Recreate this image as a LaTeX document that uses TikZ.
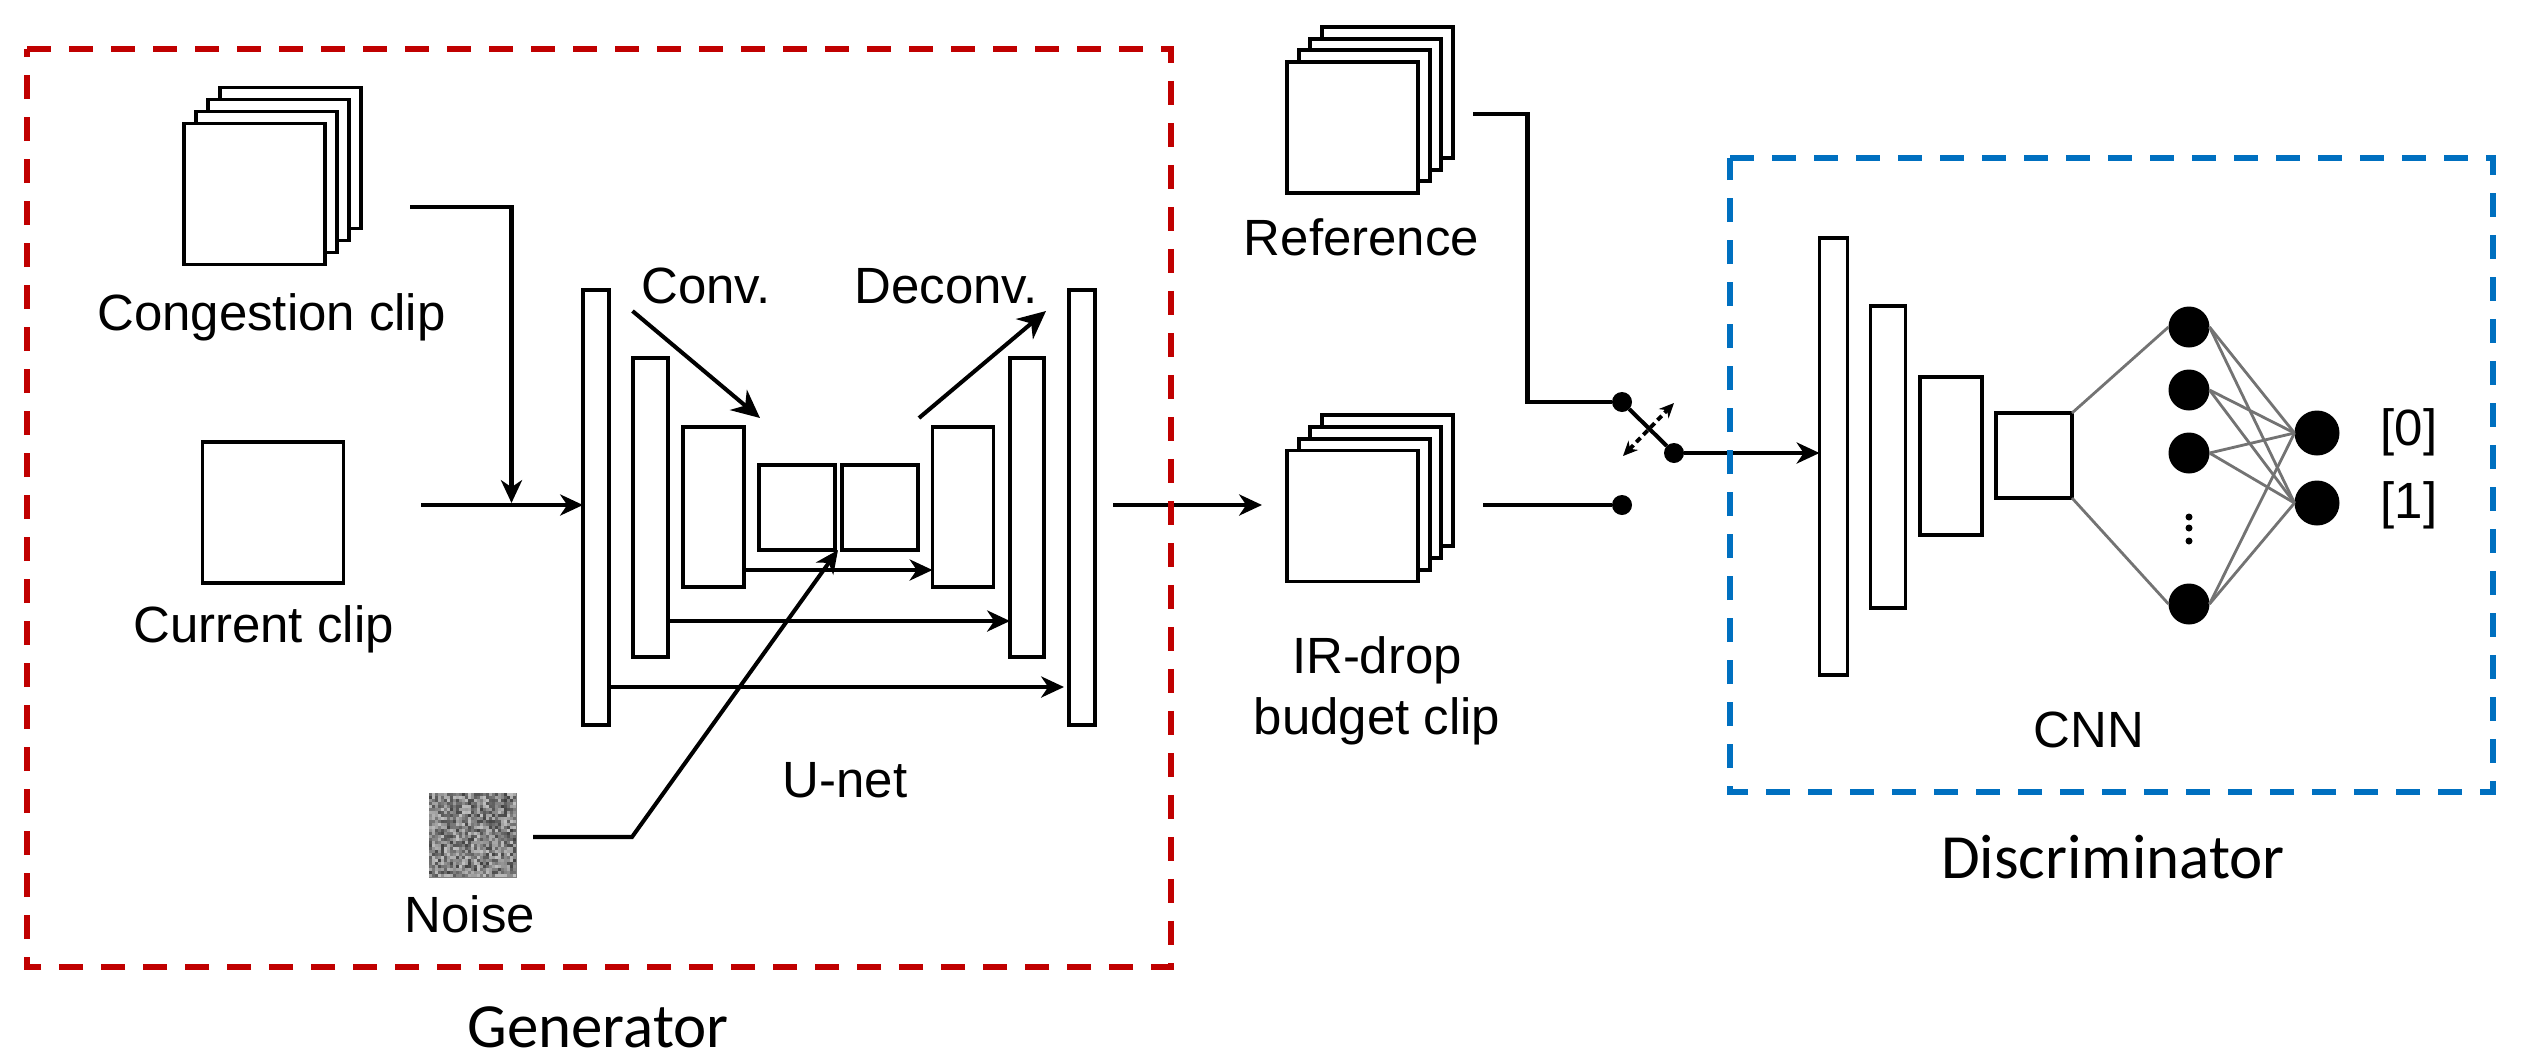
\documentclass[tikz,border=0pt]{standalone}
\usepackage{fontspec}
\usepackage{tikz}
\usetikzlibrary{arrows.meta}
\setmainfont{Liberation Sans}
\newfontfamily\captionfont{Carlito}

\tikzset{
  unit/.style={rectangle, draw, fill=white, line width=1.1pt, inner sep=0pt, outer sep=0pt},
  clipbox/.style={unit, minimum width=1.41cm, minimum height=1.41cm},
  smallbox/.style={unit, minimum width=1.31cm, minimum height=1.31cm},
  txt/.style={anchor=base, inner sep=0pt, font=\fontsize{14.5}{17}\selectfont},
  capt/.style={anchor=base, inner sep=0pt, font=\captionfont\fontsize{17.9}{21}\selectfont},
  conn/.style={line width=1.15pt, -{Stealth[length=6.5pt,width=6pt,inset=2pt]}},
  bigconn/.style={line width=1.15pt, -{Stealth[length=8pt,width=7.5pt,inset=2.5pt]}},
  wire/.style={line width=1.15pt},
  swpin/.style={circle, fill=black, inner sep=0pt, outer sep=0pt, minimum size=0.2cm},
  neuron/.style={circle, fill=black, inner sep=0pt, outer sep=0pt, minimum size=0.41cm},
  neuronb/.style={circle, fill=black, inner sep=0pt, outer sep=0pt, minimum size=0.45cm},
  dotty/.style={circle, fill=black, inner sep=0pt, outer sep=0pt, minimum size=0.07cm},
  syn/.style={line width=0.8pt, draw=black!55},
  frame/.style={line width=0.06cm, dash pattern=on 0.24cm off 0.18cm}
}
\definecolor{genred}{HTML}{C00000}
\definecolor{discblue}{HTML}{0070C0}

\begin{document}
\begin{tikzpicture}
\useasboundingbox (0,0) rectangle (25.22,-10.62);

% congestion stack
\node (cong3) at (2.545+3*0.12,-1.94+3*0.12) [clipbox] {};
\node (cong2) at (2.545+2*0.12,-1.94+2*0.12) [clipbox] {};
\node (cong1) at (2.545+1*0.12,-1.94+1*0.12) [clipbox] {};
\node (cong0) at (2.545,-1.94) [clipbox] {};
\node (congtxt) at (2.715,-3.30) [txt] {Congestion clip};

\node (cur) at (2.73,-5.125) [clipbox] {};
\node (curtxt) at (2.635,-6.42) [txt] {Current clip};

\node (noise) at (4.73,-8.355) [rectangle, fill=black!50, inner sep=0pt, minimum width=0.88cm, minimum height=0.85cm] {};
\pgfmathsetseed{11}
\foreach \i in {0,...,28}
  \foreach \j in {0,...,27} {
    \pgfmathsetmacro{\lvl}{int(25+50*rnd)}
    \fill[black!\lvl] (4.29+\i*0.03,-7.93-\j*0.03) rectangle ++(0.031,-0.031);
  }
\node (noisetxt) at (4.70,-9.32) [txt] {Noise};

% u-net
\node (bar1) at (5.96,-5.075) [unit, minimum width=0.26cm, minimum height=4.35cm] {};
\node (bar2) at (6.505,-5.075) [unit, minimum width=0.35cm, minimum height=2.99cm] {};
\node (bar3) at (7.135,-5.07) [unit, minimum width=0.61cm, minimum height=1.6cm] {};
\node (bar4) at (7.97,-5.075) [unit, minimum width=0.76cm, minimum height=0.85cm] {};
\node (bar5) at (8.80,-5.075) [unit, minimum width=0.76cm, minimum height=0.85cm] {};
\node (bar6) at (9.63,-5.07) [unit, minimum width=0.61cm, minimum height=1.6cm] {};
\node (bar7) at (10.27,-5.075) [unit, minimum width=0.34cm, minimum height=2.99cm] {};
\node (bar8) at (10.82,-5.075) [unit, minimum width=0.26cm, minimum height=4.35cm] {};

\node (convtxt) at (7.06,-3.03) [txt] {Conv.};
\node (deconvtxt) at (9.46,-3.03) [txt] {Deconv.};
\node (unettxt) at (8.45,-7.97) [txt] {U-net};

\coordinate (congout) at (4.10,-2.07);
\coordinate (curout) at (4.21,-5.05);
\coordinate (merge) at (5.115,-5.03);
\coordinate (noiseout) at (5.33,-8.37);
\coordinate (noisebend) at (6.32,-8.37);
\coordinate (convs) at (6.325,-3.11);
\coordinate (conve) at (7.60,-4.18);
\coordinate (deconvs) at (9.19,-4.18);
\coordinate (deconve) at (10.46,-3.11);

\draw[conn] (congout) -| (merge);
\draw[conn] (curout) -- (curout -| bar1.west);
\draw[bigconn] (convs) -- (conve);
\draw[bigconn] (deconvs) -- (deconve);
\draw[conn] ([yshift=-0.63cm]bar3.east) -- ([yshift=-0.63cm]bar6.west);
\draw[conn] ([yshift=-1.135cm]bar2.east) -- ([yshift=-1.135cm]bar7.west);
\draw[conn] ([yshift=-1.795cm]bar1.east) -- ([xshift=-0.05cm,yshift=-1.795cm]bar8.west);
\draw[conn] (noiseout) -- (noisebend) -- ([xshift=0.03cm]bar4.south east);

% middle stacks
\node (ref3) at (13.525+3*0.117,-1.275+3*0.117) [smallbox] {};
\node (ref2) at (13.525+2*0.117,-1.275+2*0.117) [smallbox] {};
\node (ref1) at (13.525+1*0.117,-1.275+1*0.117) [smallbox] {};
\node (ref0) at (13.525,-1.275) [smallbox] {};
\node (reftxt) at (13.615,-2.55) [txt] {Reference};

\node (ir3) at (13.525+3*0.117,-5.16+3*0.117) [smallbox] {};
\node (ir2) at (13.525+2*0.117,-5.16+2*0.117) [smallbox] {};
\node (ir1) at (13.525+1*0.117,-5.16+1*0.117) [smallbox] {};
\node (ir0) at (13.525,-5.16) [smallbox] {};
\node (irtxta) at (13.77,-6.73) [txt] {IR-drop};
\node (irtxtb) at (13.77,-7.34) [txt] {budget clip};

\coordinate (unetout) at (11.13,-5.05);
\coordinate (irin) at (12.62,-5.05);
\draw[conn] (unetout) -- (irin);

% switch
\node (pin1) at (16.22,-4.02) [swpin] {};
\node (pin2) at (16.74,-4.53) [swpin] {} edge[wire] (pin1);
\node (pin3) at (16.22,-5.05) [swpin] {};
\coordinate (refout) at (14.73,-1.14);
\coordinate (irout) at (14.83,-5.05);
\coordinate (swa) at (16.23,-4.56);
\coordinate (swb) at (16.74,-4.03);
\draw[wire] (refout) -- (15.275,-1.14) -- (15.275,-4.02) -- (pin1);
\draw[wire] (irout) -- (pin3);
\draw[line width=1.1pt, dash pattern=on 1.7pt off 1.2pt, {Stealth[length=4.2pt,width=3.8pt]}-{Stealth[length=4.2pt,width=3.8pt]}] (swa) -- (swb);

% cnn
\node (dis1) at (18.335,-4.565) [unit, minimum width=0.28cm, minimum height=4.37cm] {};
\node (dis2) at (18.88,-4.57) [unit, minimum width=0.35cm, minimum height=3.02cm] {};
\node (dis3) at (19.51,-4.56) [unit, minimum width=0.62cm, minimum height=1.58cm] {};
\node (dis4) at (20.34,-4.555) [unit, minimum width=0.76cm, minimum height=0.85cm] {};
\node (cnntxt) at (20.89,-7.47) [txt] {CNN};
\draw[conn] (pin2) -- (pin2 -| dis1.west);

\node (n1) at (21.89,-3.27) [neuron] {};
\node (n2) at (21.89,-3.90) [neuron] {};
\node (n3) at (21.89,-4.53) [neuron] {};
\node (n4) at (21.89,-6.04) [neuron] {};
\node (d1) at (21.89,-5.17) [dotty] {};
\node (d2) at (21.89,-5.28) [dotty] {};
\node (d3) at (21.89,-5.41) [dotty] {};
\node (o0) at (23.17,-4.33) [neuronb] {};
\node (o1) at (23.17,-5.03) [neuronb] {};

\draw[syn] (dis4.north east) -- (n1.west);
\draw[syn] (dis4.south east) -- (n4.west);
\draw[syn] (n1.east) -- (o0.west);
\draw[syn] (n1.east) -- (o1.west);
\draw[syn] (n2.east) -- (o0.west);
\draw[syn] (n2.east) -- (o1.west);
\draw[syn] (n3.east) -- (o0.west);
\draw[syn] (n3.east) -- (o1.west);
\draw[syn] (n4.east) -- (o0.west);
\draw[syn] (n4.east) -- (o1.west);

\node (lab0) at (24.09,-4.45) [txt] {[0]};
\node (lab1) at (24.09,-5.18) [txt] {[1]};

% dashed frames
\draw[frame, genred] (0.27,-0.49) -- (11.71,-0.49) -- (11.71,-9.67) -- (0.27,-9.67) -- cycle;
\draw[frame, discblue] (17.30,-1.58) -- (24.93,-1.58) -- (24.93,-7.92) -- (17.30,-7.92) -- cycle;
\node (gentxt) at (5.98,-10.47) [capt] {Generator};
\node (disctxt) at (21.13,-8.78) [capt] {Discriminator};
\end{tikzpicture}
\end{document}
